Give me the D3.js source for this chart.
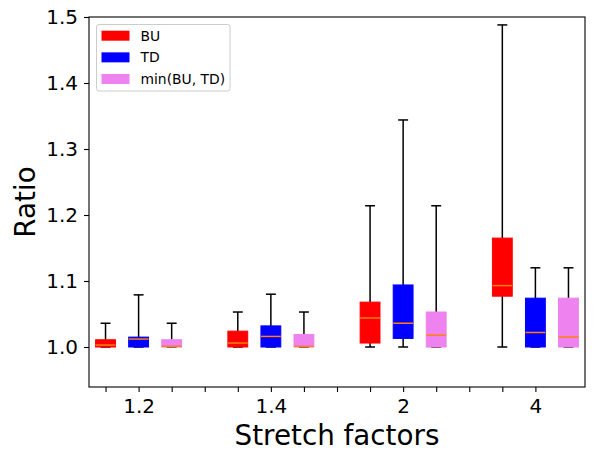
<!DOCTYPE html>
<html><head><meta charset="utf-8">
<script src="https://cdn.jsdelivr.net/npm/d3@7"></script>
<style>body{margin:0;background:#fff}svg{display:block;font-family:"DejaVu Sans",sans-serif}</style>
</head><body>
<svg id="c" width="598" height="460"></svg>
<script>
const categories = ["1.2", "1.4", "2", "4"];
const seriesNames = ["BU", "TD", "min(BU, TD)"];
const seriesColors = ["#ff0000", "#0000ff", "#ee82ee"];
// per category values
const buLow  = [1.000, 1.000, 1.000, 1.000];
const buQ1   = [1.000, 1.000, 1.006, 1.077];
const buMed  = [1.003, 1.006, 1.044, 1.093];
const buQ3   = [1.011, 1.024, 1.068, 1.165];
const buHigh = [1.036, 1.053, 1.214, 1.488];
const tdLow  = [1.000, 1.000, 1.000, 1.000];
const tdQ1   = [1.000, 1.000, 1.013, 1.000];
const tdMed  = [1.012, 1.016, 1.036, 1.022];
const tdQ3   = [1.015, 1.032, 1.094, 1.074];
const tdHigh = [1.079, 1.080, 1.344, 1.120];
const mnLow  = [1.000, 1.000, 1.000, 1.000];
const mnQ1   = [1.000, 1.000, 1.000, 1.000];
const mnMed  = [1.001, 1.001, 1.018, 1.015];
const mnQ3   = [1.011, 1.019, 1.053, 1.074];
const mnHigh = [1.036, 1.053, 1.214, 1.120];
const yTicks = [1.0, 1.1, 1.2, 1.3, 1.4, 1.5];
const xTickPositions = [1,2,3,4,5,6,7,8,9,10,11,12,13,14];
const xLabelPositions = [2, 6, 10, 14];

const stats = [
  {low: buLow, q1: buQ1, med: buMed, q3: buQ3, high: buHigh},
  {low: tdLow, q1: tdQ1, med: tdMed, q3: tdQ3, high: tdHigh},
  {low: mnLow, q1: mnQ1, med: mnMed, q3: mnQ3, high: mnHigh}
];

const L = 89, R = 585, T = 17, B = 387;
const x = d3.scaleLinear().domain([0.5, 15.5]).range([L, R]);
const y = d3.scaleLinear().domain([0.9394, 1.5]).range([B, T]);
const svg = d3.select("#c");

// axes
const yAxis = d3.axisLeft(y).tickValues(yTicks).tickFormat(d3.format(".1f")).tickSize(5).tickPadding(6);
const gy = svg.append("g").attr("transform", `translate(${L},0)`).call(yAxis)
  .attr("font-size", 20).attr("font-family", "DejaVu Sans");
gy.select(".domain").remove();
gy.selectAll("line").attr("stroke", "#000").attr("stroke-width", 1.1);
gy.selectAll("text").attr("font-size", "20px").attr("fill", "#000").attr("dy", "0.34em");

const xAxis = d3.axisBottom(x).tickValues(xTickPositions)
  .tickFormat(d => { const i = xLabelPositions.indexOf(d); return i >= 0 ? categories[i] : ""; })
  .tickSize(5).tickPadding(6);
const gx = svg.append("g").attr("transform", `translate(0,${B})`).call(xAxis)
  .attr("font-size", 20).attr("font-family", "DejaVu Sans");
gx.select(".domain").remove();
gx.selectAll("line").attr("stroke", "#000").attr("stroke-width", 1.1);
gx.selectAll("text").attr("font-size", "20px").attr("fill", "#000").attr("dy", "0").attr("y", 25.5);

// boxes
const boxW = 0.6, capW = 0.3;
stats.forEach((s, si) => {
  const g = svg.append("g");
  categories.forEach((c, ci) => {
    const p = ci * 4 + si + 1;
    const xc = x(p);
    const bw = x(p + boxW / 2) - x(p - boxW / 2);
    const cw = x(p + capW / 2) - x(p - capW / 2);
    // whiskers
    g.append("line").attr("x1", xc).attr("x2", xc).attr("y1", y(s.q3[ci])).attr("y2", y(s.high[ci]))
      .attr("stroke", "#000").attr("stroke-width", 1.5);
    g.append("line").attr("x1", xc).attr("x2", xc).attr("y1", y(s.q1[ci])).attr("y2", y(s.low[ci]))
      .attr("stroke", "#000").attr("stroke-width", 1.5);
    g.append("line").attr("x1", xc - cw / 2).attr("x2", xc + cw / 2).attr("y1", y(s.high[ci])).attr("y2", y(s.high[ci]))
      .attr("stroke", "#000").attr("stroke-width", 1.5);
    g.append("line").attr("x1", xc - cw / 2).attr("x2", xc + cw / 2).attr("y1", y(s.low[ci])).attr("y2", y(s.low[ci]))
      .attr("stroke", "#000").attr("stroke-width", 1.5);
    // box
    g.append("rect").attr("x", xc - bw / 2).attr("width", bw)
      .attr("y", y(s.q3[ci])).attr("height", Math.max(0, y(s.q1[ci]) - y(s.q3[ci])))
      .attr("fill", seriesColors[si]).attr("stroke", seriesColors[si]).attr("stroke-width", 1);
    // median
    g.append("line").attr("x1", xc - bw / 2).attr("x2", xc + bw / 2).attr("y1", y(s.med[ci])).attr("y2", y(s.med[ci]))
      .attr("stroke", "#ff7f0e").attr("stroke-width", 1.5);
  });
});

// frame
svg.append("rect").attr("x", L).attr("y", T).attr("width", R - L).attr("height", B - T)
  .attr("fill", "none").attr("stroke", "#000").attr("stroke-width", 1.1);

// axis labels
svg.append("text").attr("x", (L + R) / 2).attr("y", 445).attr("text-anchor", "middle")
  .attr("font-size", "27.78px").attr("fill", "#000").text("Stretch factors");
svg.append("text").attr("transform", `translate(35,${(T + B) / 2}) rotate(-90)`).attr("text-anchor", "middle")
  .attr("font-size", "27.78px").attr("fill", "#000").text("Ratio");

// legend
const lg = svg.append("g");
lg.append("rect").attr("x", 96.5).attr("y", 24.5).attr("width", 133.5).attr("height", 66.5).attr("rx", 2.5)
  .attr("fill", "#fff").attr("fill-opacity", 0.8).attr("stroke", "#cccccc").attr("stroke-width", 1);
seriesNames.forEach((n, i) => {
  const cy = 35.7 + i * 21.65;
  lg.append("rect").attr("x", 101.5).attr("y", cy - 5).attr("width", 28).attr("height", 10).attr("fill", seriesColors[i]);
  lg.append("text").attr("x", 140.5).attr("y", cy + 5).attr("font-size", "13.89px").attr("fill", "#000").text(n);
});
</script>
</body></html>
